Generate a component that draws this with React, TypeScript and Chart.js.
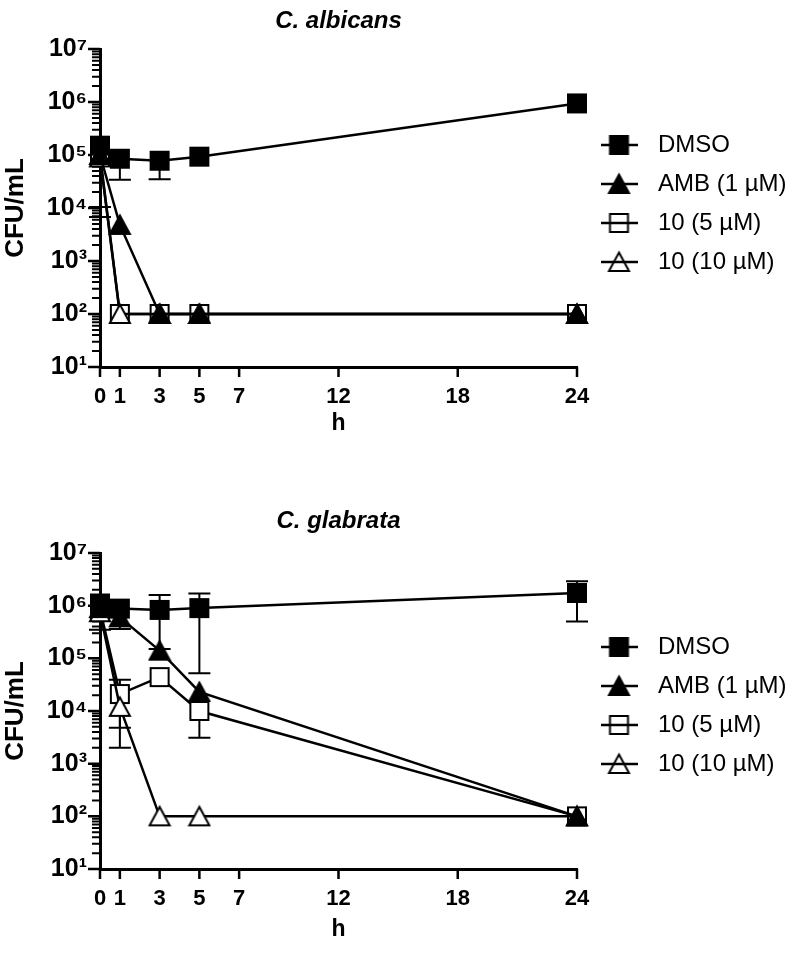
import React, { useEffect, useRef } from 'react';
import { Chart, registerables } from 'chart.js';

Chart.register(...registerables);

// ---------- data ----------
const times = [0, 1, 3, 5, 24];
const xTicks = [0, 1, 3, 5, 7, 12, 18, 24];
const yMajorTicks = [1e1, 1e2, 1e3, 1e4, 1e5, 1e6, 1e7];
const yMinorFactors = [2, 3, 4, 5, 6, 7, 8, 9];
const seriesNames = ['DMSO', 'AMB (1 µM)', '10 (5 µM)', '10 (10 µM)'];

// C. albicans
const albDmso = [1.5e5, 8.5e4, 7.8e4, 9.3e4, 9.4e5];
const albDmsoLow = [null, 3.4e4, 3.5e4, null, null];
const albDmsoHigh = [null, null, null, null, null];
const albAmb = [1.0e5, 4.8e3, 100, 100, 100];
const albAmbLow = [null, null, null, null, null];
const albAmbHigh = [null, null, null, null, null];
const albC5 = [1.0e5, 100, 100, 100, 100];
const albC5Low = [1.05e4, null, null, null, null];
const albC5High = [null, null, null, null, null];
const albC10 = [9.0e4, 100, 100, 100, 100];
const albC10Low = [6.8e3, null, null, null, null];
const albC10High = [null, null, null, null, null];

// C. glabrata
const glaDmso = [1.1e6, 8.8e5, 8.3e5, 9.0e5, 1.74e6];
const glaDmsoLow = [null, null, 1.5e5, 5.2e4, 5.0e5];
const glaDmsoHigh = [null, null, 1.6e6, 1.7e6, 2.9e6];
const glaAmb = [9.0e5, 6.0e5, 1.4e5, 2.3e4, 100];
const glaAmbLow = [null, 3.6e5, null, null, null];
const glaAmbHigh = [null, null, null, null, null];
const glaC5 = [8.5e5, 2.1e4, 4.4e4, 1.0e4, 100];
const glaC5Low = [null, 4.8e3, null, 3.1e3, null];
const glaC5High = [null, 3.9e4, null, null, null];
const glaC10 = [7.5e5, 1.2e4, 100, 100, 100];
const glaC10Low = [3.5e5, 2.0e3, null, null, null];
const glaC10High = [null, null, null, null, null];

// ---------- styling helpers ----------
const FAMILY = '"Liberation Sans", Arial, Helvetica, sans-serif';
const SUP: Record<number, string> = { 0: '⁰', 1: '¹', 2: '²', 3: '³', 4: '⁴', 5: '⁵', 6: '⁶', 7: '⁷', 8: '⁸', 9: '⁹' };

type Shape = 'square' | 'triangle';

function makeMarker(shape: Shape, filled: boolean, withLine: boolean): HTMLCanvasElement {
  const w = withLine ? 37 : 24;
  const h = 24;
  const c = document.createElement('canvas');
  c.width = w;
  c.height = h;
  const g = c.getContext('2d') as CanvasRenderingContext2D;
  const cx = w / 2;
  const cy = h / 2;
  g.strokeStyle = '#000';
  if (withLine) {
    g.lineWidth = 2.5;
    g.beginPath();
    g.moveTo(0, cy);
    g.lineTo(w, cy);
    g.stroke();
  }
  g.lineWidth = 2;
  g.beginPath();
  if (shape === 'square') {
    g.rect(cx - 9, cy - 9, 18, 18);
  } else {
    g.moveTo(cx, cy - 9.5);
    g.lineTo(cx + 10, cy + 9);
    g.lineTo(cx - 10, cy + 9);
    g.closePath();
  }
  if (filled) {
    g.fillStyle = '#000';
    g.fill();
  } else if (!withLine) {
    g.fillStyle = '#fff';
    g.fill();
  }
  g.stroke();
  return c;
}

const axisTicksPlugin = {
  id: 'axisTicks',
  beforeDatasetsDraw(chart: any) {
    const { ctx, chartArea, scales } = chart;
    const xs = scales.x;
    const ys = scales.y;
    ctx.save();
    ctx.strokeStyle = '#000';
    ctx.lineWidth = 2.5;
    ctx.beginPath();
    for (const v of xTicks) {
      const px = xs.getPixelForValue(v);
      ctx.moveTo(px, chartArea.bottom);
      ctx.lineTo(px, chartArea.bottom + 10);
    }
    for (const v of yMajorTicks) {
      const py = ys.getPixelForValue(v);
      ctx.moveTo(chartArea.left - 12, py);
      ctx.lineTo(chartArea.left, py);
    }
    ctx.stroke();
    ctx.lineWidth = 2;
    ctx.beginPath();
    for (let k = 0; k < yMajorTicks.length - 1; k++) {
      for (const m of yMinorFactors) {
        const py = ys.getPixelForValue(yMajorTicks[k] * m);
        ctx.moveTo(chartArea.left - 8, py);
        ctx.lineTo(chartArea.left, py);
      }
    }
    ctx.stroke();
    ctx.restore();
  },
};

const errorBarsPlugin = {
  id: 'errorBars',
  beforeDatasetsDraw(chart: any) {
    const { ctx, scales } = chart;
    const ys = scales.y;
    ctx.save();
    ctx.strokeStyle = '#000';
    ctx.lineWidth = 2;
    chart.data.datasets.forEach((ds: any, i: number) => {
      const meta = chart.getDatasetMeta(i);
      meta.data.forEach((pt: any, j: number) => {
        const ends = [ds.errLow ? ds.errLow[j] : null, ds.errHigh ? ds.errHigh[j] : null];
        for (const e of ends) {
          if (e == null) continue;
          const pe = ys.getPixelForValue(e);
          ctx.beginPath();
          ctx.moveTo(pt.x, pt.y);
          ctx.lineTo(pt.x, pe);
          ctx.moveTo(pt.x - 11, pe);
          ctx.lineTo(pt.x + 11, pe);
          ctx.stroke();
        }
      });
    });
    ctx.restore();
  },
};

type SeriesIn = { values: number[]; low: (number | null)[]; high: (number | null)[] };

interface PanelProps {
  top: number;
  title: string;
  series: SeriesIn[];
  titlePadBottom: number;
  layoutPadBottom: number;
  xTitlePadBottom: number;
  legendTitlePad: number;
}

const SHAPES: Shape[] = ['square', 'triangle', 'square', 'triangle'];
const FILLED = [true, true, false, false];
const ORDERS = [1, 2, 4, 3];

function Panel(props: PanelProps) {
  const ref = useRef<HTMLCanvasElement | null>(null);
  useEffect(() => {
    const canvas = ref.current;
    if (!canvas) return;
    const markers = SHAPES.map((s, i) => makeMarker(s, FILLED[i], false));
    const legendImgs = SHAPES.map((s, i) => makeMarker(s, FILLED[i], true));

    const datasets = props.series.map((s, i) => ({
      label: seriesNames[i],
      data: times.map((t, j) => ({ x: t, y: s.values[j] })),
      errLow: s.low,
      errHigh: s.high,
      borderColor: '#000',
      backgroundColor: '#000',
      borderWidth: 2.5,
      tension: 0,
      fill: false,
      pointStyle: markers[i],
      pointRadius: 10,
      pointHoverRadius: 10,
      clip: false,
      order: ORDERS[i],
    }));

    const chart = new Chart(canvas, {
      type: 'line',
      data: { datasets: datasets as any },
      plugins: [axisTicksPlugin, errorBarsPlugin],
      options: {
        responsive: false,
        animation: false,
        events: [],
        layout: { padding: { left: 0, right: 0, top: 0, bottom: props.layoutPadBottom } },
        plugins: {
          title: {
            display: true,
            text: props.title,
            fullSize: false,
            color: '#000',
            font: { family: FAMILY, size: 24, weight: 'bold', style: 'italic' },
            padding: { top: 7, bottom: props.titlePadBottom },
          },
          legend: {
            display: true,
            position: 'right',
            align: 'start',
            maxWidth: 217,
            title: { display: true, text: '', padding: { top: props.legendTitlePad, bottom: 0 }, font: { size: 12 } },
            labels: {
              usePointStyle: true,
              pointStyleWidth: 54,
              padding: 15,
              color: '#000',
              font: { family: FAMILY, size: 24 },
              generateLabels: () =>
                seriesNames.map((name, i) => ({
                  text: name,
                  pointStyle: legendImgs[i],
                  fillStyle: '#000',
                  strokeStyle: '#000',
                  lineWidth: 0,
                  hidden: false,
                  datasetIndex: i,
                  fontColor: '#000',
                })) as any,
            },
          },
          tooltip: { enabled: false },
        },
        scales: {
          x: {
            type: 'linear',
            min: 0,
            max: 24,
            afterBuildTicks: (scale: any) => {
              scale.ticks = xTicks.map((v) => ({ value: v }));
            },
            afterFit: (scale: any) => {
              scale.height = 80;
            },
            grid: { display: false, drawTicks: false },
            border: { display: true, color: '#000', width: 3 },
            ticks: {
              color: '#000',
              autoSkip: false,
              maxRotation: 0,
              padding: 16.8,
              font: { family: FAMILY, size: 22, weight: 'bold' },
              callback: (v: any) => String(v),
            },
            title: {
              display: true,
              text: 'h',
              color: '#000',
              font: { family: FAMILY, size: 23, weight: 'bold' },
              padding: { top: 0, bottom: props.xTitlePadBottom },
            },
          },
          y: {
            type: 'logarithmic',
            min: 10,
            max: 1e7,
            afterBuildTicks: (scale: any) => {
              scale.ticks = yMajorTicks.map((v) => ({ value: v }));
            },
            afterFit: (scale: any) => {
              scale.width = 100;
            },
            grid: { display: false, drawTicks: false },
            border: { display: true, color: '#000', width: 3 },
            ticks: {
              color: '#000',
              autoSkip: false,
              padding: 13,
              font: { family: FAMILY, size: 25, weight: 'bold' },
              callback: (v: any) => '10' + SUP[Math.round(Math.log10(Number(v)))],
            },
            title: {
              display: true,
              text: 'CFU/mL',
              color: '#000',
              font: { family: FAMILY, size: 26, weight: 'bold' },
              padding: { top: 0.5, bottom: 0 },
            },
          },
        },
      } as any,
    });
    return () => chart.destroy();
  }, []);

  return (
    <canvas
      ref={ref}
      width={794}
      height={450}
      style={{ position: 'absolute', left: 0, top: props.top, width: 794, height: 450 }}
    />
  );
}

export default function App() {
  const albSeries: SeriesIn[] = [
    { values: albDmso, low: albDmsoLow, high: albDmsoHigh },
    { values: albAmb, low: albAmbLow, high: albAmbHigh },
    { values: albC5, low: albC5Low, high: albC5High },
    { values: albC10, low: albC10Low, high: albC10High },
  ];
  const glaSeries: SeriesIn[] = [
    { values: glaDmso, low: glaDmsoLow, high: glaDmsoHigh },
    { values: glaAmb, low: glaAmbLow, high: glaAmbHigh },
    { values: glaC5, low: glaC5Low, high: glaC5High },
    { values: glaC10, low: glaC10Low, high: glaC10High },
  ];
  return (
    <div style={{ position: 'absolute', left: 0, top: 0, width: 794, height: 959, background: '#fff' }}>
      <Panel
        top={0}
        title="C. albicans"
        series={albSeries}
        titlePadBottom={13.2}
        layoutPadBottom={3}
        xTitlePadBottom={9.2}
        legendTitlePad={103.6}
      />
      <Panel
        top={500}
        title="C. glabrata"
        series={glaSeries}
        titlePadBottom={17.2}
        layoutPadBottom={1}
        xTitlePadBottom={5.2}
        legendTitlePad={105.6}
      />
    </div>
  );
}
